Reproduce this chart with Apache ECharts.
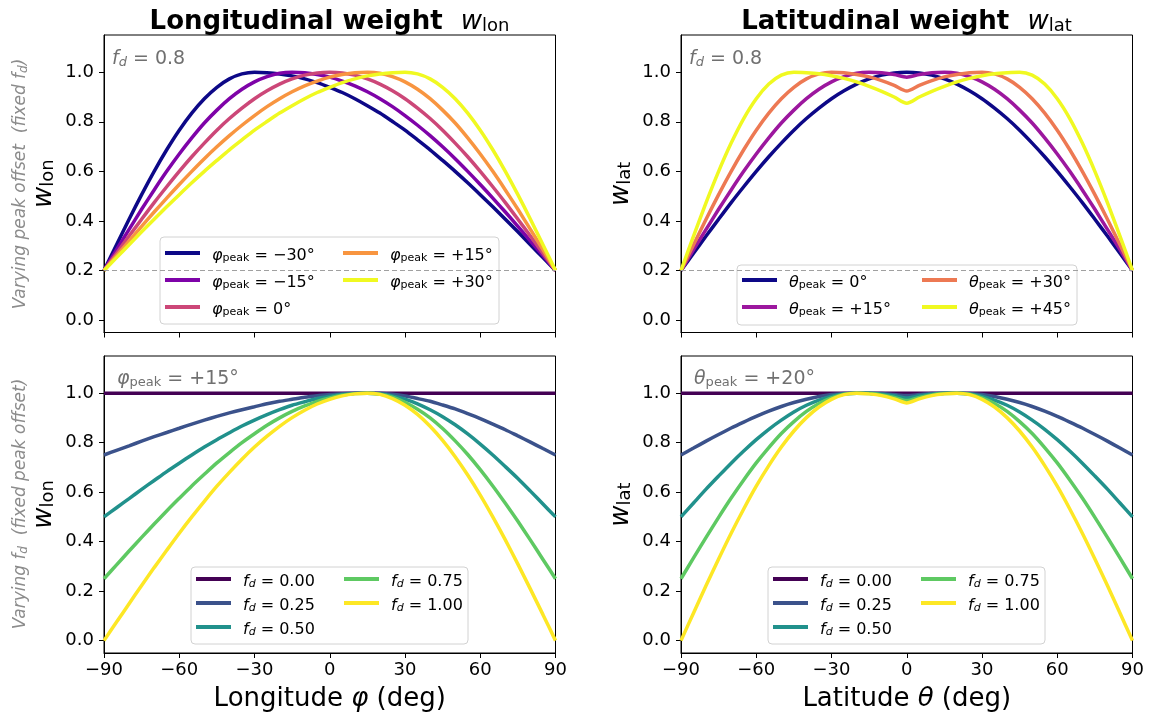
<!DOCTYPE html>
<html>
<head>
<meta charset="utf-8">
<script src="https://cdn.jsdelivr.net/npm/echarts@6/dist/echarts.min.js"></script>
<style>
  html, body { margin: 0; padding: 0; background: #fff; }
  #chart { width: 1152px; height: 722px; }
</style>
</head>
<body>
<div id="chart"></div>
<script>
// Sample angles (deg) shared by every curve
const angles = [-90,-85,-80,-75,-70,-65,-60,-55,-50,-45,-40,-35,-30,-25,-20,-15,-10,-5,0,5,10,15,20,25,30,35,40,45,50,55,60,65,70,75,80,85,90];

// Tick labels
const xTicks = [-90, -60, -30, 0, 30, 60, 90];
const yTicks = [0, 0.2, 0.4, 0.6, 0.8, 1.0];

// Legend labels
const lonPeakLabels = ['−30°', '−15°', '0°', '+15°', '+30°'];
const latPeakLabels = ['0°', '+15°', '+30°', '+45°'];
const fdLabels = ['0.00', '0.25', '0.50', '0.75', '1.00'];

// Longitudinal weight, f_d = 0.8, varying peak offset
const lonPeakM30 = [0.200,0.304,0.407,0.506,0.600,0.687,0.766,0.835,0.893,0.939,0.973,0.993,1.000,0.998,0.993,0.985,0.973,0.958,0.939,0.918,0.893,0.865,0.835,0.801,0.766,0.727,0.687,0.644,0.600,0.554,0.506,0.457,0.407,0.356,0.304,0.252,0.200];
const lonPeakM15 = [0.200,0.284,0.366,0.447,0.525,0.600,0.670,0.735,0.795,0.847,0.893,0.931,0.961,0.982,0.996,1.000,0.998,0.991,0.980,0.964,0.945,0.921,0.893,0.861,0.825,0.786,0.744,0.699,0.651,0.600,0.547,0.492,0.436,0.378,0.319,0.260,0.200];
const lonPeak0   = [0.200,0.270,0.339,0.407,0.474,0.538,0.600,0.659,0.714,0.766,0.813,0.855,0.893,0.925,0.952,0.973,0.988,0.997,1.000,0.997,0.988,0.973,0.952,0.925,0.893,0.855,0.813,0.766,0.714,0.659,0.600,0.538,0.474,0.407,0.339,0.270,0.200];
const lonPeakP15 = [0.200,0.260,0.319,0.378,0.436,0.492,0.547,0.600,0.651,0.699,0.744,0.786,0.825,0.861,0.893,0.921,0.945,0.964,0.980,0.991,0.998,1.000,0.996,0.982,0.961,0.931,0.893,0.847,0.795,0.735,0.670,0.600,0.525,0.447,0.366,0.284,0.200];
const lonPeakP30 = [0.200,0.252,0.304,0.356,0.407,0.457,0.506,0.554,0.600,0.644,0.687,0.727,0.766,0.801,0.835,0.865,0.893,0.918,0.939,0.958,0.973,0.985,0.993,0.998,1.000,0.993,0.973,0.939,0.893,0.835,0.766,0.687,0.600,0.506,0.407,0.304,0.200];

// Latitudinal weight, f_d = 0.8, varying peak offset
const latPeak0  = [0.200,0.270,0.339,0.407,0.474,0.538,0.600,0.659,0.714,0.766,0.813,0.855,0.893,0.925,0.952,0.973,0.988,0.997,1.000,0.997,0.988,0.973,0.952,0.925,0.893,0.855,0.813,0.766,0.714,0.659,0.600,0.538,0.474,0.407,0.339,0.270,0.200];
const latPeak15 = [0.200,0.284,0.366,0.447,0.525,0.600,0.670,0.735,0.795,0.847,0.893,0.931,0.961,0.982,0.996,1.000,0.998,0.991,0.980,0.991,0.998,1.000,0.996,0.982,0.961,0.931,0.893,0.847,0.795,0.735,0.670,0.600,0.525,0.447,0.366,0.284,0.200];
const latPeak30 = [0.200,0.304,0.407,0.506,0.600,0.687,0.766,0.835,0.893,0.939,0.973,0.993,1.000,0.998,0.991,0.981,0.966,0.947,0.924,0.947,0.966,0.981,0.991,0.998,1.000,0.993,0.973,0.939,0.893,0.835,0.766,0.687,0.600,0.506,0.407,0.304,0.200];
const latPeak45 = [0.200,0.339,0.474,0.600,0.714,0.813,0.893,0.952,0.988,1.000,0.998,0.994,0.986,0.975,0.961,0.943,0.923,0.900,0.875,0.900,0.923,0.943,0.961,0.975,0.986,0.994,0.998,1.000,0.988,0.952,0.893,0.813,0.714,0.600,0.474,0.339,0.200];

// Longitudinal weight, peak at +15°, varying f_d
const lonFd000 = [1,1,1,1,1,1,1,1,1,1,1,1,1,1,1,1,1,1,1,1,1,1,1,1,1,1,1,1,1,1,1,1,1,1,1,1,1];
const lonFd025 = [0.750,0.769,0.787,0.806,0.824,0.841,0.858,0.875,0.891,0.906,0.920,0.933,0.945,0.957,0.967,0.975,0.983,0.989,0.994,0.997,0.999,1.000,0.999,0.995,0.988,0.978,0.967,0.952,0.936,0.917,0.897,0.875,0.852,0.827,0.802,0.776,0.750];
const lonFd050 = [0.500,0.537,0.574,0.611,0.647,0.683,0.717,0.750,0.782,0.812,0.840,0.867,0.891,0.913,0.933,0.951,0.965,0.978,0.987,0.994,0.999,1.000,0.997,0.989,0.976,0.957,0.933,0.905,0.872,0.835,0.794,0.750,0.703,0.655,0.604,0.552,0.500];
const lonFd075 = [0.250,0.306,0.362,0.417,0.471,0.524,0.575,0.625,0.672,0.718,0.760,0.800,0.836,0.870,0.900,0.926,0.948,0.967,0.981,0.992,0.998,1.000,0.996,0.984,0.963,0.935,0.900,0.857,0.807,0.752,0.691,0.625,0.555,0.482,0.406,0.328,0.250];
const lonFd100 = [0.000,0.075,0.149,0.223,0.295,0.365,0.434,0.500,0.563,0.624,0.680,0.733,0.782,0.826,0.866,0.901,0.931,0.956,0.975,0.989,0.997,1.000,0.995,0.978,0.951,0.914,0.866,0.809,0.743,0.669,0.588,0.500,0.407,0.309,0.208,0.105,0.000];

// Latitudinal weight, peak at +20°, varying f_d
const latFd000 = [1,1,1,1,1,1,1,1,1,1,1,1,1,1,1,1,1,1,1,1,1,1,1,1,1,1,1,1,1,1,1,1,1,1,1,1,1];
const latFd025 = [0.750,0.778,0.806,0.833,0.859,0.883,0.906,0.927,0.946,0.962,0.975,0.986,0.994,0.999,1.000,0.999,0.998,0.994,0.990,0.994,0.998,0.999,1.000,0.999,0.994,0.986,0.975,0.962,0.946,0.927,0.906,0.883,0.859,0.833,0.806,0.778,0.750];
const latFd050 = [0.500,0.556,0.612,0.665,0.717,0.766,0.812,0.854,0.891,0.924,0.951,0.972,0.988,0.997,1.000,0.999,0.995,0.989,0.980,0.989,0.995,0.999,1.000,0.997,0.988,0.972,0.951,0.924,0.891,0.854,0.812,0.766,0.717,0.665,0.612,0.556,0.500];
const latFd075 = [0.250,0.334,0.417,0.498,0.576,0.649,0.718,0.780,0.837,0.885,0.926,0.958,0.981,0.996,1.000,0.998,0.993,0.983,0.970,0.983,0.993,0.998,1.000,0.996,0.981,0.958,0.926,0.885,0.837,0.780,0.718,0.649,0.576,0.498,0.417,0.334,0.250];
const latFd100 = [0.000,0.112,0.223,0.330,0.434,0.532,0.624,0.707,0.782,0.847,0.901,0.944,0.975,0.994,1.000,0.997,0.990,0.977,0.960,0.977,0.990,0.997,1.000,0.994,0.975,0.944,0.901,0.847,0.782,0.707,0.624,0.532,0.434,0.330,0.223,0.112,0.000];

// Colour maps (plasma / viridis samples)
const plasma5 = ['#0d0887', '#7e03a8', '#cc4778', '#f89540', '#f0f921'];
const plasma4 = ['#0d0887', '#9c179e', '#ed7953', '#f0f921'];
const viridis5 = ['#440154', '#3b528b', '#21918c', '#5ec962', '#fde725'];

const FONT = 'DejaVu Sans';
const NOTE_GREY = '#707070';
const SIDE_GREY = '#8c8c8c';

// Panel geometry: 0 = top-left, 1 = top-right, 2 = bottom-left, 3 = bottom-right
const panels = [
  { left: 104, top: 35, width: 451.5, height: 297.5 },
  { left: 681, top: 35, width: 451.5, height: 297.5 },
  { left: 104, top: 356, width: 451.5, height: 297 },
  { left: 681, top: 356, width: 451.5, height: 297 }
];

function lineSeries(name, values, color, idx) {
  return {
    type: 'line', name: name,
    xAxisIndex: idx, yAxisIndex: idx,
    data: angles.map((a, i) => [a, values[i]]),
    showSymbol: false, symbol: 'none', smooth: 0.25,
    lineStyle: { width: 3.5, color: color },
    itemStyle: { color: color },
    silent: true, animation: false, z: 2
  };
}

const series = [];
const lonPeakSets = [lonPeakM30, lonPeakM15, lonPeak0, lonPeakP15, lonPeakP30];
lonPeakSets.forEach((v, i) => series.push(lineSeries('φ ' + lonPeakLabels[i], v, plasma5[i], 0)));
const latPeakSets = [latPeak0, latPeak15, latPeak30, latPeak45];
latPeakSets.forEach((v, i) => series.push(lineSeries('θ ' + latPeakLabels[i], v, plasma4[i], 1)));
const lonFdSets = [lonFd000, lonFd025, lonFd050, lonFd075, lonFd100];
lonFdSets.forEach((v, i) => series.push(lineSeries('fd ' + fdLabels[i], v, viridis5[i], 2)));
const latFdSets = [latFd000, latFd025, latFd050, latFd075, latFd100];
latFdSets.forEach((v, i) => series.push(lineSeries('fd ' + fdLabels[i], v, viridis5[i], 3)));

// Floor reference (1 - f_d) in the two upper panels
[0, 1].forEach(idx => {
  series.push({
    type: 'line', xAxisIndex: idx, yAxisIndex: idx, data: [], silent: true, animation: false, z: 1,
    markLine: {
      silent: true, symbol: 'none', animation: false,
      label: { show: false },
      lineStyle: { color: '#a0a0a0', type: [5, 3], width: 1 },
      data: [{ yAxis: 0.2 }]
    }
  });
});

const mathRich = {
  i: { fontFamily: FONT, fontStyle: 'italic', fontSize: 26, lineHeight: 34, verticalAlign: 'bottom', color: '#000' },
  t: { fontFamily: FONT, fontSize: 26, lineHeight: 34, verticalAlign: 'bottom', color: '#000' },
  s: { fontFamily: FONT, fontSize: 18, lineHeight: 18, verticalAlign: 'bottom', color: '#000' }
};

const grids = panels.map(p => ({
  left: p.left, top: p.top, width: p.width, height: p.height,
  show: true, borderColor: '#000', borderWidth: 1, backgroundColor: 'transparent'
}));

const xAxes = panels.map((p, idx) => {
  const bottom = idx >= 2;
  return {
    gridIndex: idx, type: 'value', min: -90, max: 90, interval: 30,
    axisLine: { show: true, onZero: false, lineStyle: { color: '#000', width: 1 } },
    axisTick: { show: true, length: 5, lineStyle: { color: '#000', width: 1 } },
    axisLabel: {
      show: bottom, margin: 8, fontFamily: FONT, fontSize: 18, color: '#000',
      formatter: v => (v < 0 ? '−' + Math.abs(v) : String(v))
    },
    splitLine: { show: false },
    name: bottom ? (idx === 2 ? '{t|Longitude }{i|φ}{t| (deg)}' : '{t|Latitude }{i|θ}{t| (deg)}') : '',
    nameLocation: 'middle', nameGap: 25,
    nameTextStyle: { rich: mathRich }
  };
});

const yAxes = panels.map((p, idx) => ({
  gridIndex: idx, type: 'value', min: -0.05, max: 1.15,
  axisLine: { show: true, onZero: false, lineStyle: { color: '#000', width: 1 } },
  axisTick: { show: true, length: 5, customValues: yTicks, lineStyle: { color: '#000', width: 1 } },
  axisLabel: {
    customValues: yTicks, margin: 10, fontFamily: FONT, fontSize: 18, color: '#000',
    formatter: v => v.toFixed(1)
  },
  splitLine: { show: false },
  name: idx % 2 === 0 ? '{i|w}{s|lon}' : '{i|w}{s|lat}',
  nameLocation: 'middle', nameGap: 47, nameRotate: 90,
  nameTextStyle: { rich: mathRich }
}));

// Legends: two columns per panel, each column its own vertical legend
const legendRich = {
  i: { fontFamily: FONT, fontStyle: 'italic', fontSize: 16, lineHeight: 22, verticalAlign: 'bottom', color: '#000' },
  t: { fontFamily: FONT, fontSize: 16, lineHeight: 22, verticalAlign: 'bottom', color: '#000' },
  s: { fontFamily: FONT, fontSize: 11, lineHeight: 11, verticalAlign: 'bottom', color: '#000' },
  si: { fontFamily: FONT, fontStyle: 'italic', fontSize: 11, lineHeight: 11, verticalAlign: 'bottom', color: '#000' }
};
function legendFormatter(name) {
  const key = name.split(' ')[0];
  const val = name.slice(key.length + 1);
  if (key === 'fd') return '{i|f}{si|d}{t| = ' + val + '}';
  return '{i|' + key + '}{s|peak}{t| = ' + val + '}';
}
function legendColumn(names, left, top, gap) {
  return {
    orient: 'vertical', left: left, top: top, padding: 0, itemGap: gap,
    itemWidth: 35, itemHeight: 4, icon: 'rect', selectedMode: false, z: 6,
    data: names, formatter: legendFormatter,
    textStyle: { padding: [0, 0, 0, 7], rich: legendRich }
  };
}
const lonPeakNames = lonPeakLabels.map(l => 'φ ' + l);
const latPeakNames = latPeakLabels.map(l => 'θ ' + l);
const fdNames = fdLabels.map(l => 'fd ' + l);
const legends = [
  legendColumn(lonPeakNames.slice(0, 3), 165, 248, 11),
  legendColumn(lonPeakNames.slice(3), 343, 248, 11),
  legendColumn(latPeakNames.slice(0, 2), 742, 275, 11),
  legendColumn(latPeakNames.slice(2), 922, 275, 11),
  legendColumn(fdNames.slice(0, 3), 196, 574, 8),
  legendColumn(fdNames.slice(3), 344, 574, 8),
  legendColumn(fdNames.slice(0, 3), 773, 574, 8),
  legendColumn(fdNames.slice(3), 921, 574, 8)
];

function legendFrame(x, y, w, h) {
  return {
    type: 'rect', z: 5, silent: true,
    shape: { x: x, y: y, width: w, height: h, r: 4 },
    style: { fill: 'rgba(255,255,255,0.85)', stroke: '#d2d2d2', lineWidth: 1 }
  };
}

const titleRich = {
  b: { fontFamily: FONT, fontWeight: 'bold', fontSize: 26, lineHeight: 34, verticalAlign: 'bottom', fill: '#000' },
  i: { fontFamily: FONT, fontStyle: 'italic', fontSize: 26, lineHeight: 34, verticalAlign: 'bottom', fill: '#000' },
  s: { fontFamily: FONT, fontSize: 18, lineHeight: 18, verticalAlign: 'bottom', fill: '#000' }
};
function titleText(cx, text) {
  return {
    type: 'text', x: cx, y: 18, silent: true,
    style: { text: text, rich: titleRich, align: 'center', verticalAlign: 'middle' }
  };
}

const noteRich = {
  i: { fontFamily: FONT, fontStyle: 'italic', fontSize: 19, lineHeight: 26, verticalAlign: 'bottom', fill: NOTE_GREY },
  t: { fontFamily: FONT, fontSize: 19, lineHeight: 26, verticalAlign: 'bottom', fill: NOTE_GREY },
  s: { fontFamily: FONT, fontSize: 13, lineHeight: 13, verticalAlign: 'bottom', fill: NOTE_GREY },
  si: { fontFamily: FONT, fontStyle: 'italic', fontSize: 13, lineHeight: 13, verticalAlign: 'bottom', fill: NOTE_GREY }
};
function note(x, y, text) {
  return {
    type: 'text', x: x, y: y, silent: true, z: 4,
    style: { text: text, rich: noteRich, fill: NOTE_GREY, align: 'left', verticalAlign: 'middle' }
  };
}

const sideRich = {
  t: { fontFamily: FONT, fontStyle: 'italic', fontSize: 17, lineHeight: 23, verticalAlign: 'bottom', fill: SIDE_GREY },
  s: { fontFamily: FONT, fontStyle: 'italic', fontSize: 12, lineHeight: 12, verticalAlign: 'bottom', fill: SIDE_GREY }
};
function sideLabel(cy, text) {
  return {
    type: 'text', x: 18, y: cy, rotation: Math.PI / 2, silent: true,
    style: { text: text, rich: sideRich, fill: SIDE_GREY, align: 'center', verticalAlign: 'middle' }
  };
}

const graphics = [
  titleText(329.5, '{b|Longitudinal weight}{b|  }{i|w}{s|lon}'),
  titleText(906.5, '{b|Latitudinal weight}{b|  }{i|w}{s|lat}'),
  sideLabel(184, '{t|Varying peak offset  (fixed }{t|f}{s|d}{t|)}'),
  sideLabel(504, '{t|Varying }{t|f}{s|d}{t|  (fixed peak offset)}'),
  note(112, 56, '{i|f}{si|d}{t| = 0.8}'),
  note(689, 56, '{i|f}{si|d}{t| = 0.8}'),
  note(117, 376, '{i|φ}{s|peak}{t| = +15°}'),
  note(694, 376, '{i|θ}{s|peak}{t| = +20°}'),
  legendFrame(160, 237, 339, 87),
  legendFrame(737, 265, 340, 60),
  legendFrame(191, 567, 277, 77),
  legendFrame(768, 567, 277, 77)
];

const chart = echarts.init(document.getElementById('chart'), null, { renderer: 'canvas' });
chart.setOption({
  backgroundColor: '#fff',
  animation: false,
  grid: grids,
  xAxis: xAxes,
  yAxis: yAxes,
  legend: legends,
  series: series,
  graphic: graphics
});
</script>
</body>
</html>
